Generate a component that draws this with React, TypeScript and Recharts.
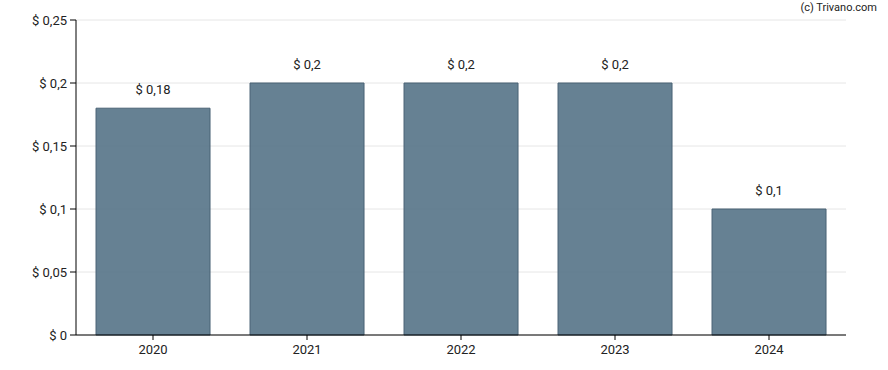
import { BarChart, Bar, XAxis, YAxis, CartesianGrid, LabelList } from "recharts";

const years = ["2020", "2021", "2022", "2023", "2024"];
const dividends = [0.18, 0.2, 0.2, 0.2, 0.1];
const yTicks = [0, 0.05, 0.1, 0.15, 0.2, 0.25];

const data = years.map((year, i) => ({ year, amount: dividends[i] }));

const fmt = (v: number) => `$ ${String(v).replace(".", ",")}`;

export default function App() {
  return (
    <div style={{ position: "absolute", left: 0, top: 0, width: 888, height: 370, fontFamily: "Roboto, sans-serif" }}>
      <BarChart width={888} height={370} data={data} margin={{ top: 20, right: 42, bottom: 0, left: 0 }} barCategoryGap="13%">
        <CartesianGrid vertical={false} stroke="#e6e6e6" />
        <XAxis
          dataKey="year"
          height={35}
          stroke="#000"
          tickLine={{ stroke: "#000" }}
          tickSize={5}
          tickMargin={5}
          tick={{ fill: "#222", fontSize: 13 }}
        />
        <YAxis
          width={76}
          domain={[0, 0.25]}
          ticks={yTicks}
          tickFormatter={fmt}
          stroke="#000"
          tickSize={6}
          tickMargin={3}
          tick={{ fill: "#222", fontSize: 13 }}
        />
        <Bar dataKey="amount" fill="#557387" fillOpacity={0.9} stroke="#4a6275" isAnimationActive={false}>
          <LabelList dataKey="amount" position="top" offset={14} formatter={(v: any) => fmt(v)} style={{ fill: "#222", fontSize: 13 }} />
        </Bar>
      </BarChart>
      <div style={{ position: "absolute", right: 11, top: 1, fontSize: 11, lineHeight: "13px", color: "#222", zIndex: 2 }}>(c) Trivano.com</div>
    </div>
  );
}
